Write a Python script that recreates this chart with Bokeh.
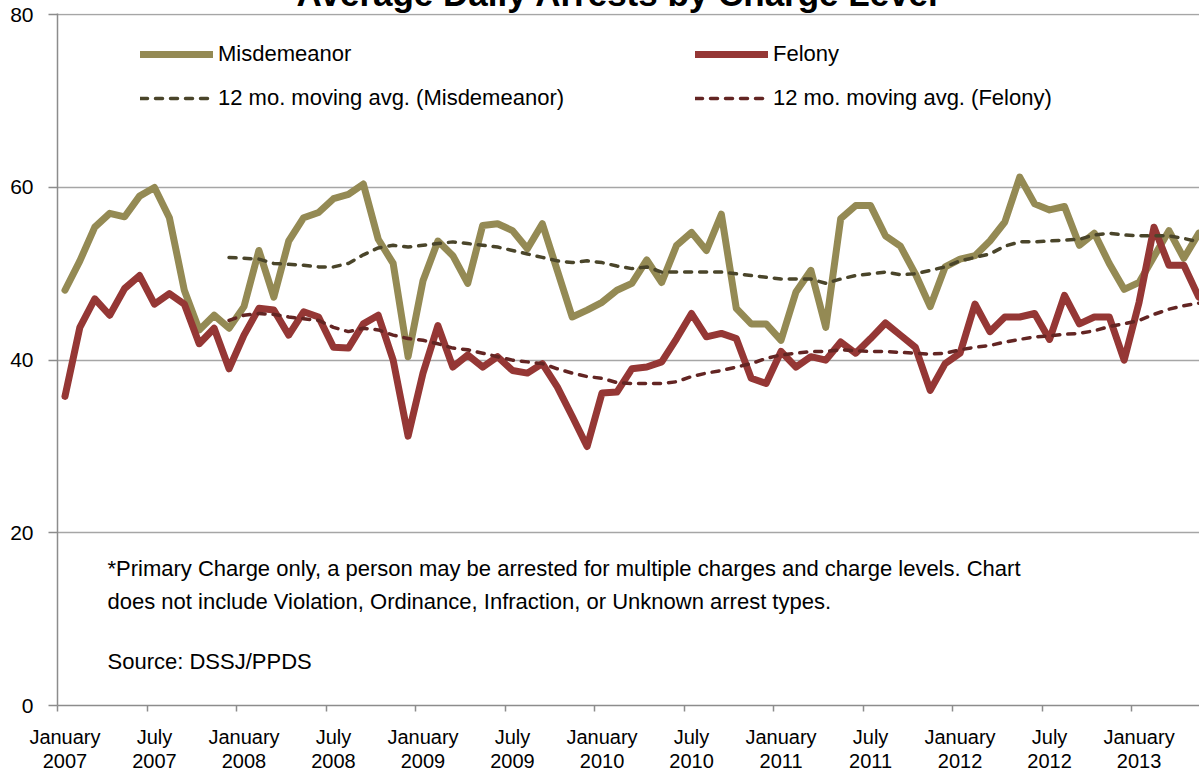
from bokeh.plotting import figure
from bokeh.models import Range1d, FixedTicker, Legend, LegendItem, Label
from bokeh.embed import file_html
from bokeh.resources import INLINE

# ---------------- data (monthly, January 2007 .. May 2013) ----------------
months = list(range(77))

misdemeanor = [
    48.1, 51.5, 55.4, 57.0, 56.6, 59.0, 60.0, 56.5, 48.1, 43.5, 45.2, 43.7,   # 2007
    46.2, 52.7, 47.3, 53.8, 56.5, 57.1, 58.7, 59.2, 60.4, 54.0, 51.2, 40.4,   # 2008
    49.2, 53.8, 52.1, 48.9, 55.6, 55.8, 55.0, 52.9, 55.8, 50.4, 45.0, 45.8,   # 2009
    46.7, 48.1, 48.9, 51.6, 49.0, 53.3, 54.8, 52.7, 56.9, 46.0, 44.2, 44.2,   # 2010
    42.3, 47.9, 50.4, 43.8, 56.4, 57.9, 57.9, 54.4, 53.2, 50.0, 46.2, 50.8,   # 2011
    51.7, 52.1, 53.8, 56.0, 61.2, 58.1, 57.4, 57.8, 53.3, 54.7, 51.2, 48.2,   # 2012
    49.0, 52.0, 55.0, 51.8, 54.7,                                             # 2013
]

felony = [
    35.8, 43.8, 47.1, 45.2, 48.3, 49.8, 46.5, 47.7, 46.5, 41.9, 43.7, 39.0,
    42.9, 46.0, 45.8, 42.9, 45.6, 45.0, 41.5, 41.4, 44.2, 45.2, 40.0, 31.2,
    38.5, 44.0, 39.2, 40.6, 39.2, 40.4, 38.8, 38.5, 39.6, 36.9, 33.5, 30.0,
    36.2, 36.3, 39.0, 39.2, 39.8, 42.5, 45.4, 42.7, 43.1, 42.5, 37.9, 37.3,
    41.0, 39.2, 40.4, 40.0, 42.1, 40.8, 42.5, 44.3, 42.9, 41.5, 36.5, 39.6,
    40.8, 46.5, 43.3, 45.0, 45.0, 45.4, 42.4, 47.5, 44.2, 45.0, 45.0, 40.0,
    46.7, 55.4, 51.0, 51.0, 47.3,
]

# 12-month moving averages (as drawn, starting December 2007)
ma_months = list(range(11, 77))
ma_misdemeanor = [
    51.9,
    51.8, 51.7, 51.2, 51.1, 51.0, 50.8, 50.8, 51.2, 52.2, 53.0, 53.3, 53.1,
    53.3, 53.5, 53.7, 53.5, 53.3, 53.1, 52.7, 52.3, 51.9, 51.5, 51.3, 51.5,
    51.3, 50.9, 50.6, 50.8, 50.2, 50.2, 50.2, 50.2, 50.2, 50.0, 49.8, 49.6,
    49.4, 49.4, 49.4, 48.9, 49.4, 49.8, 50.0, 50.2, 49.9, 50.0, 50.4, 50.8,
    51.5, 51.9, 52.3, 53.2, 53.7, 53.7, 53.8, 53.9, 54.0, 54.5, 54.7, 54.5,
    54.4, 54.4, 54.4, 54.1, 53.7,
]
ma_felony = [
    44.6,
    45.2, 45.4, 45.3, 45.0, 44.8, 44.6, 43.8, 43.3, 43.7, 43.5, 42.9, 42.5,
    42.3, 41.9, 41.4, 41.2, 40.8, 40.4, 40.0, 39.8, 39.6, 39.0, 38.5, 38.1,
    37.9, 37.4, 37.3, 37.3, 37.3, 37.5, 38.1, 38.5, 38.8, 39.2, 39.6, 40.2,
    40.6, 40.8, 41.0, 41.0, 41.2, 41.1, 41.0, 41.0, 40.9, 40.8, 40.7, 40.8,
    41.2, 41.5, 41.7, 42.1, 42.4, 42.7, 42.8, 43.0, 43.1, 43.4, 43.9, 44.2,
    44.6, 45.3, 45.9, 46.3, 46.6,
]

label_months = list(range(0, 73, 6))
label_texts = [
    "January\n2007", "July\n2007", "January\n2008", "July\n2008",
    "January\n2009", "July\n2009", "January\n2010", "July\n2010",
    "January\n2011", "July\n2011", "January\n2012", "July\n2012",
    "January\n2013",
]
boundary_ticks = [m - 0.5 for m in label_months]
y_ticks = [0, 20, 40, 60, 80]

# ---------------- styling ----------------
FONT = "Liberation Sans"
C_MIS = "#948A54"
C_FEL = "#953735"
C_MIS_MA = "#4A452A"
C_FEL_MA = "#632523"
GRID = "#A6A6A6"
AXIS = "#8C8C8C"

TOP, FRAME_H, BOTTOM = 60, 692, 76

p = figure(
    width=1199, height=TOP + FRAME_H + BOTTOM,
    x_range=Range1d(-0.5, 76.05), y_range=Range1d(0, 80.15),
    output_backend="svg", toolbar_location=None,
    min_border_left=57, min_border_right=0, min_border_top=TOP, min_border_bottom=BOTTOM,
    background_fill_color="white", border_fill_color="white",
)
p.styles = {"margin-top": "-47px", "margin-bottom": "-6px"}
p.outline_line_color = None

p.title.text = "Average Daily Arrests by Charge Level"
p.title.text_font = FONT
p.title.text_font_size = "35px"
p.title.text_font_style = "bold"
p.title.text_color = "black"
p.title.align = "left"
p.title.offset = 239
p.title.standoff = 2

# lines
r_m = p.line(months, misdemeanor, line_color=C_MIS, line_width=7,
             line_join="round", line_cap="round")
r_f = p.line(months, felony, line_color=C_FEL, line_width=7,
             line_join="round", line_cap="round")
r_mam = p.line(ma_months, ma_misdemeanor, line_color=C_MIS_MA, line_width=3.5,
               line_dash="7 8", line_cap="round")
r_maf = p.line(ma_months, ma_felony, line_color=C_FEL_MA, line_width=3.5,
               line_dash="7 8", line_cap="round")

# axes
xa = p.xaxis[0]
xa.ticker = FixedTicker(ticks=label_months, minor_ticks=boundary_ticks)
xa.major_label_overrides = {m: t for m, t in zip(label_months, label_texts)}
xa.major_tick_out = 0
xa.major_tick_in = 0
xa.minor_tick_out = 6
xa.minor_tick_in = 0
xa.minor_tick_line_color = AXIS
xa.minor_tick_line_width = 1.5
xa.axis_line_color = AXIS
xa.axis_line_width = 1.5
xa.major_label_text_font = FONT
xa.major_label_text_font_size = "20px"
xa.major_label_text_color = "black"
xa.major_label_text_line_height = 1.1
xa.major_label_standoff = 14

ya = p.yaxis[0]
ya.ticker = FixedTicker(ticks=y_ticks)
ya.major_tick_out = 9
ya.major_tick_in = 0
ya.minor_tick_out = 0
ya.minor_tick_in = 0
ya.major_tick_line_color = AXIS
ya.major_tick_line_width = 1.5
ya.axis_line_color = AXIS
ya.axis_line_width = 1.5
ya.major_label_text_font = FONT
ya.major_label_text_font_size = "21px"
ya.major_label_text_color = "black"
ya.major_label_standoff = 15

p.xgrid.grid_line_color = None
p.ygrid.ticker = FixedTicker(ticks=y_ticks)
p.ygrid.grid_line_color = GRID
p.ygrid.grid_line_width = 1.5

# legends (two columns)
def make_legend(items, loc):
    lg = Legend(items=items, location=loc, orientation="vertical",
                glyph_width=73, glyph_height=24, label_height=24, spacing=18,
                label_standoff=5, padding=0, margin=0,
                border_line_color=None, background_fill_alpha=0,
                label_text_font=FONT, label_text_font_size="22px",
                label_text_color="black")
    return lg

leg1 = make_legend([LegendItem(label="Misdemeanor", renderers=[r_m]),
                    LegendItem(label="12 mo. moving avg. (Misdemeanor)", renderers=[r_mam])],
                   (83, 594))
leg2 = make_legend([LegendItem(label="Felony", renderers=[r_f]),
                    LegendItem(label="12 mo. moving avg. (Felony)", renderers=[r_maf])],
                   (638, 594))
p.add_layout(leg1)
p.add_layout(leg2)

# notes
notes = [
    ("*Primary Charge only, a person may be arrested for multiple charges and charge levels.  Chart", 137),
    ("does not include Violation, Ordinance, Infraction, or Unknown arrest types.", 104),
    ("Source: DSSJ/PPDS", 44),
]
for txt, yy in notes:
    p.add_layout(Label(x=50, y=yy, x_units="screen", y_units="screen", text=txt,
                       text_font=FONT, text_font_size="22px", text_color="black",
                       text_baseline="middle", text_align="left"))

open("out.html", "w").write(file_html(p, INLINE))
